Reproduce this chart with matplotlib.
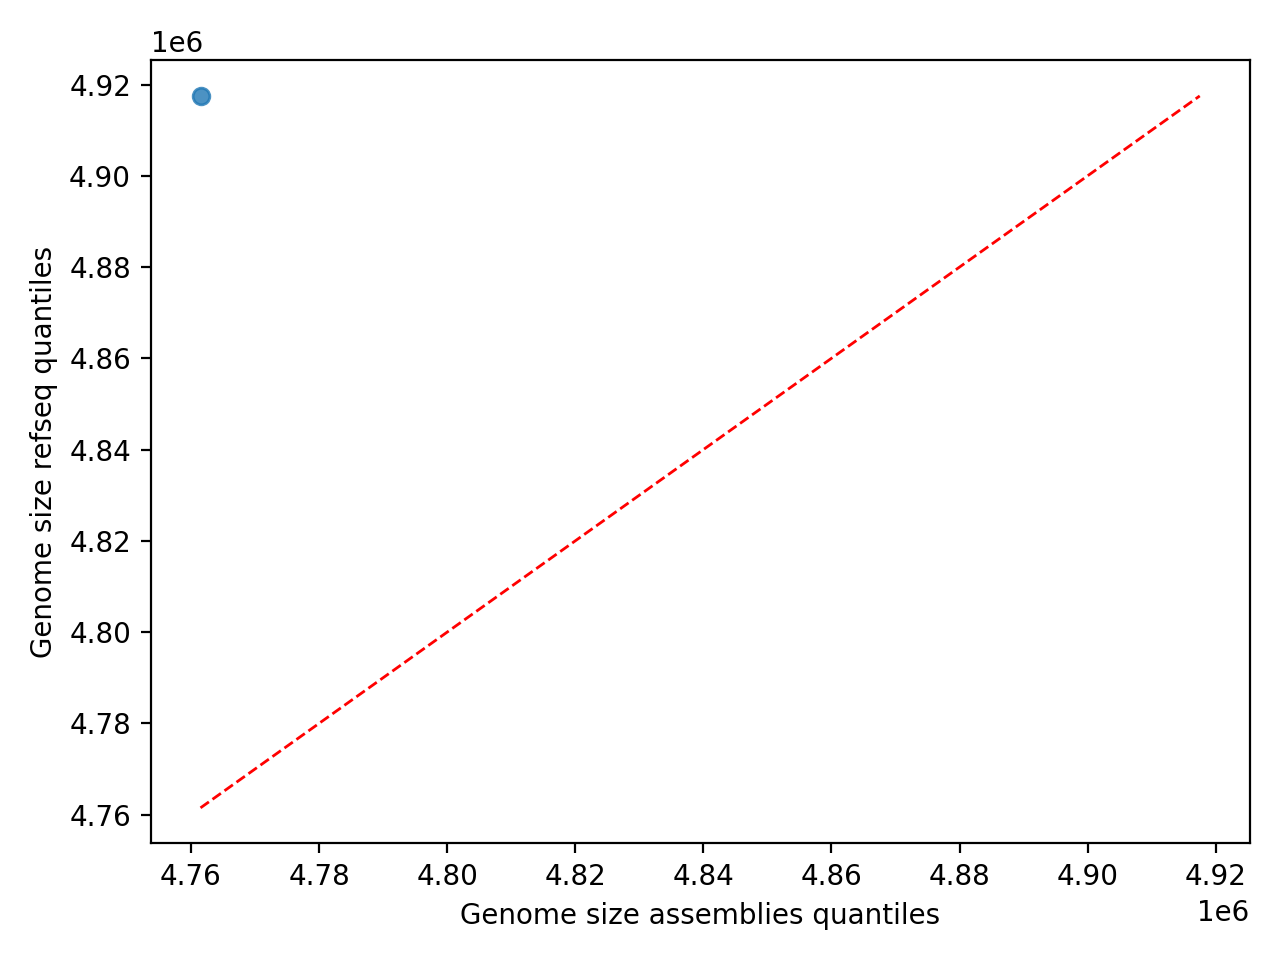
import numpy as np
import matplotlib
matplotlib.use("Agg")
import matplotlib.pyplot as plt

# quantile values
assemblies_q = [4761500]
refseq_q = [4917500]
line_lo = 4761500
line_hi = 4917500

fig, ax = plt.subplots(figsize=(6.4, 4.8), dpi=200)
ax.scatter(assemblies_q, refseq_q, alpha=0.8)
ax.plot([line_lo, line_hi], [line_lo, line_hi], color="red", linestyle="--", linewidth=1)
ax.set_xlabel("Genome size assemblies quantiles")
ax.set_ylabel("Genome size refseq quantiles")
plt.tight_layout()
plt.savefig("out.png")
